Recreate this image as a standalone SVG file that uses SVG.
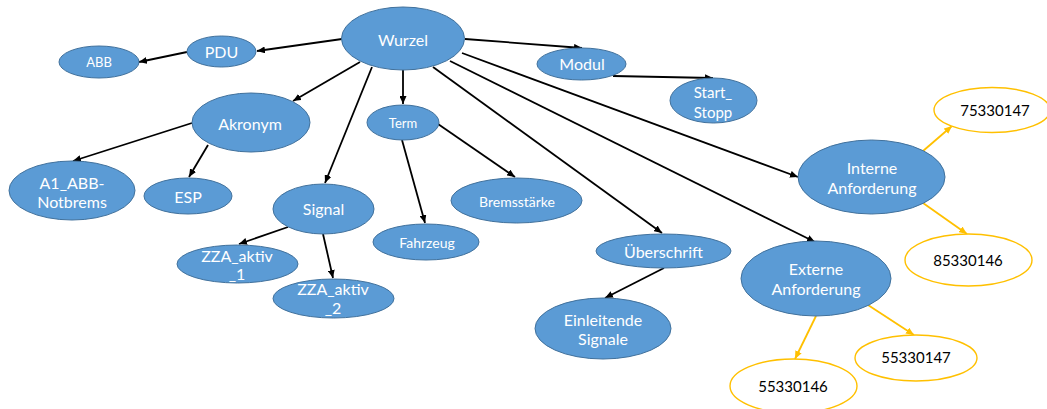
<svg xmlns="http://www.w3.org/2000/svg" width="1047" height="409" viewBox="0 0 1047 409">
  <style>
    .n { fill: #5B9BD5; stroke: #41719C; stroke-width: 1; }
    .v { fill: #FFFFFF; stroke: #FFC000; stroke-width: 1.4; }
    .t { font-family: Lato, "Open Sans", "Liberation Sans", sans-serif; font-size: 16px; fill: #FFFFFF; text-anchor: middle; }
    .d { font-family: Lato, "Open Sans", "Liberation Sans", sans-serif; font-size: 15px; fill: #000000; text-anchor: middle; }
    .e { stroke: #000000; stroke-width: 1.8; fill: none; marker-end: url(#ah); }
    .g { stroke: #FFC000; stroke-width: 1.8; fill: none; marker-end: url(#ag); }
  </style>
  <defs>
    <marker id="ah" viewBox="0 0 8 7" refX="8" refY="3.5" markerWidth="8" markerHeight="7" markerUnits="userSpaceOnUse" orient="auto">
      <path d="M0,0 L8,3.5 L0,7 z" fill="#000000"/>
    </marker>
    <marker id="ag" viewBox="0 0 8 7" refX="8" refY="3.5" markerWidth="8" markerHeight="7" markerUnits="userSpaceOnUse" orient="auto">
      <path d="M0,0 L8,3.5 L0,7 z" fill="#FFC000"/>
    </marker>
  </defs>

  <!-- connectors -->
  <g id="connectors">
    <line class="e" x1="342" y1="39" x2="257" y2="51"/>
    <line class="e" x1="187" y1="52" x2="139" y2="62"/>
    <line class="e" x1="360" y1="62" x2="293" y2="101"/>
    <line class="e" x1="372" y1="67" x2="325" y2="183"/>
    <line class="e" x1="403" y1="70" x2="403" y2="104"/>
    <line class="e" x1="465" y1="39" x2="582" y2="48"/>
    <line class="e" x1="613" y1="76" x2="713" y2="78"/>
    <line class="e" x1="462" y1="53" x2="798" y2="177"/>
    <line class="e" x1="450" y1="61" x2="815" y2="242"/>
    <line class="e" x1="433" y1="67" x2="662" y2="233"/>
    <line class="e" x1="402" y1="140" x2="425" y2="223"/>
    <line class="e" x1="438" y1="124" x2="515" y2="177"/>
    <line class="e" x1="192" y1="123" x2="73" y2="161"/>
    <line class="e" x1="208" y1="145" x2="189" y2="177"/>
    <line class="e" x1="288" y1="227" x2="239" y2="244"/>
    <line class="e" x1="323" y1="234" x2="333" y2="278"/>
    <line class="e" x1="664" y1="268" x2="605" y2="298"/>
    <line class="g" x1="923" y1="151" x2="952" y2="126"/>
    <line class="g" x1="923" y1="203" x2="967" y2="234"/>
    <line class="g" x1="868" y1="305" x2="914" y2="335"/>
    <line class="g" x1="816" y1="316" x2="795" y2="359"/>
  </g>

  <!-- nodes -->
  <g id="wurzel"><ellipse class="n" cx="403" cy="38.5" rx="61.5" ry="31.5"/><text class="t" x="403" y="45.5">Wurzel</text></g>
  <g id="pdu"><ellipse class="n" cx="221.5" cy="51.5" rx="34.5" ry="15.5"/><text class="t" x="221.5" y="57.5">PDU</text></g>
  <g id="abb"><ellipse class="n" cx="99" cy="62" rx="40" ry="16"/><text class="t" x="99" y="67" style="font-size:13px">ABB</text></g>
  <g id="akronym"><ellipse class="n" cx="251" cy="122.5" rx="59" ry="29.5"/><text class="t" x="250" y="129.5">Akronym</text></g>
  <g id="modul"><ellipse class="n" cx="581.5" cy="64" rx="44.5" ry="16"/><text class="t" x="582" y="70">Modul</text></g>
  <g id="start-stopp"><ellipse class="n" cx="713.5" cy="100.5" rx="43.5" ry="22.5"/><text class="t" x="713" y="97.5" style="font-size:15px">Start_</text><text class="t" x="713" y="118" style="font-size:15px">Stopp</text></g>
  <g id="term"><ellipse class="n" cx="403" cy="122.5" rx="36" ry="17.5"/><text class="t" x="403" y="127.5" style="font-size:13px">Term</text></g>
  <g id="interne"><ellipse class="n" cx="871.5" cy="177" rx="73.5" ry="37"/><text class="t" x="872" y="173.5">Interne</text><text class="t" x="872" y="193.5">Anforderung</text></g>
  <g id="v75330147"><ellipse class="v" cx="992" cy="110" rx="58" ry="22.5"/><text class="d" x="995" y="115.5">75330147</text></g>
  <g id="a1-abb"><ellipse class="n" cx="72" cy="190.5" rx="63" ry="29.5"/><text class="t" x="72" y="188.5">A1_ABB-</text><text class="t" x="72" y="207.5">Notbrems</text></g>
  <g id="esp"><ellipse class="n" cx="188" cy="196" rx="44" ry="18"/><text class="t" x="188" y="202.5">ESP</text></g>
  <g id="signal"><ellipse class="n" cx="323.5" cy="209" rx="50.5" ry="25"/><text class="t" x="323.5" y="214.5">Signal</text></g>
  <g id="zza1"><ellipse class="n" cx="237.5" cy="264" rx="60.5" ry="19"/><text class="t" x="237" y="261.5">ZZA_aktiv</text><text class="t" x="237" y="280">_1</text></g>
  <g id="zza2"><ellipse class="n" cx="333.5" cy="298.5" rx="60.5" ry="19.5"/><text class="t" x="333" y="294.5">ZZA_aktiv</text><text class="t" x="333" y="313.5">_2</text></g>
  <g id="fahrzeug"><ellipse class="n" cx="426" cy="242" rx="53" ry="18"/><text class="t" x="427" y="248" style="font-size:14px">Fahrzeug</text></g>
  <g id="bremsstaerke"><ellipse class="n" cx="516.5" cy="200.5" rx="65.5" ry="22.5"/><text class="t" x="517" y="207" style="font-size:14px">Bremsstärke</text></g>
  <g id="ueberschrift"><ellipse class="n" cx="663.5" cy="251" rx="67.5" ry="17"/><text class="t" x="663.5" y="257.5">Überschrift</text></g>
  <g id="einleitende"><ellipse class="n" cx="603" cy="328.5" rx="68" ry="30.5"/><text class="t" x="603" y="325.5">Einleitende</text><text class="t" x="603" y="344.5">Signale</text></g>
  <g id="externe"><ellipse class="n" cx="816" cy="278.5" rx="75" ry="37.5"/><text class="t" x="816" y="274.5">Externe</text><text class="t" x="816" y="294.5">Anforderung</text></g>
  <g id="v85330146"><ellipse class="v" cx="968.5" cy="260" rx="63.5" ry="26"/><text class="d" x="968" y="266">85330146</text></g>
  <g id="v55330147"><ellipse class="v" cx="916" cy="358" rx="61" ry="23"/><text class="d" x="916" y="363">55330147</text></g>
  <g id="v55330146"><ellipse class="v" cx="793.5" cy="386" rx="63.5" ry="27"/><text class="d" x="793" y="391.5">55330146</text></g>
</svg>
